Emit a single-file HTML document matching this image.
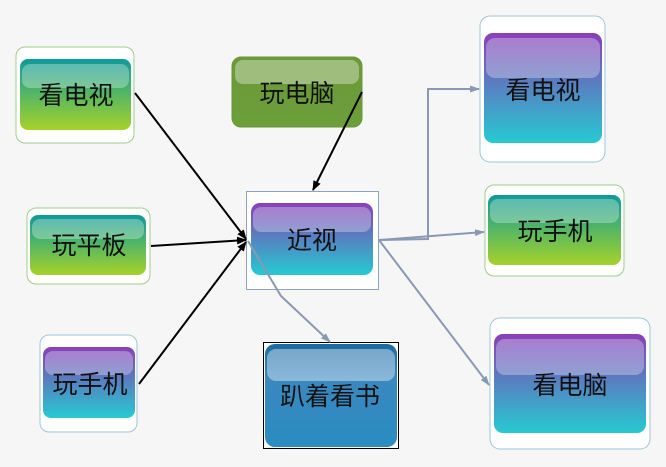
<!DOCTYPE html>
<html><head><meta charset="utf-8"><style>
html,body{margin:0;padding:0;background:#f6f6f6;}
svg{display:block}
text{font-family:"Liberation Sans","Noto Sans CJK SC",sans-serif;font-size:25px;fill:#111;text-anchor:middle;dominant-baseline:central}
</style></head><body>
<svg width="666" height="467" viewBox="0 0 666 467" xmlns="http://www.w3.org/2000/svg">
<defs>
<linearGradient id="gr" x1="0" y1="0" x2="0" y2="1">
<stop offset="0" stop-color="#0e9a98"/><stop offset="0.45" stop-color="#4fb468"/><stop offset="1" stop-color="#a6d22a"/></linearGradient>
<linearGradient id="pu" x1="0" y1="0" x2="0" y2="1">
<stop offset="0" stop-color="#8a3fb8"/><stop offset="0.45" stop-color="#5a7dc0"/><stop offset="1" stop-color="#26cad2"/></linearGradient>
<linearGradient id="ol" x1="0" y1="0" x2="0" y2="1">
<stop offset="0" stop-color="#6c9a3a"/><stop offset="1" stop-color="#6c9e3a"/></linearGradient>
<linearGradient id="bl" x1="0" y1="0" x2="0" y2="1">
<stop offset="0" stop-color="#1a6aa0"/><stop offset="0.35" stop-color="#3a88c0"/><stop offset="1" stop-color="#2a8cc0"/></linearGradient>
<marker id="ab" markerWidth="10" markerHeight="10" refX="9" refY="5" orient="auto" markerUnits="userSpaceOnUse"><path d="M0,1 L10,5 L0,9 z" fill="#000"/></marker>
<marker id="ag" markerWidth="10" markerHeight="10" refX="9" refY="5" orient="auto" markerUnits="userSpaceOnUse"><path d="M0,1.5 L10,5 L0,8.5 z" fill="#8a98b4"/></marker>
</defs>

<rect x="16" y="47" width="118" height="96" rx="9" fill="#fff" stroke="#9ccf8a"/>
<rect x="20" y="59" width="111" height="71" rx="8" fill="url(#gr)"/>
<rect x="22" y="64" width="107" height="24" rx="8" fill="#fff" opacity="0.3"/>
<text x="76" y="96">看电视</text>

<rect x="232" y="57" width="130" height="70" rx="9" fill="url(#ol)" stroke="#6a963a"/>
<rect x="235" y="60" width="124" height="24" rx="8" fill="#fff" opacity="0.35"/>
<text x="297" y="94">玩电脑</text>

<rect x="27" y="208" width="123" height="76" rx="9" fill="#fff" stroke="#9ccf8a"/>
<rect x="30" y="215" width="116" height="60" rx="8" fill="url(#gr)"/>
<rect x="32" y="219" width="112" height="20" rx="8" fill="#fff" opacity="0.3"/>
<text x="89" y="246">玩平板</text>

<rect x="246.5" y="191.5" width="132" height="98" fill="#fff" stroke="#8aa6c4"/>
<rect x="251" y="203" width="122" height="72" rx="9" fill="url(#pu)"/>
<rect x="253" y="207" width="118" height="25" rx="8" fill="#fff" opacity="0.3"/>
<text x="312" y="241">近视</text>

<rect x="40" y="335" width="97" height="97" rx="9" fill="#fff" stroke="#9cc6d8"/>
<rect x="43" y="347" width="92" height="71" rx="8" fill="url(#pu)"/>
<rect x="45" y="351" width="88" height="24" rx="8" fill="#fff" opacity="0.3"/>
<text x="90" y="385">玩手机</text>

<rect x="263.5" y="342.5" width="135" height="106" fill="#fff" stroke="#000"/>
<rect x="265" y="344" width="132" height="103" rx="10" fill="url(#bl)"/>
<rect x="267" y="349" width="128" height="32" rx="9" fill="#fff" opacity="0.4"/>
<text x="330" y="397">趴着看书</text>

<rect x="480" y="16" width="125" height="146" rx="10" fill="#fff" stroke="#9cc6d8"/>
<rect x="484" y="33" width="118" height="110" rx="9" fill="url(#pu)"/>
<rect x="486" y="38" width="114" height="40" rx="9" fill="#fff" opacity="0.3"/>
<text x="543" y="91">看电视</text>

<rect x="485" y="185" width="139" height="91" rx="9" fill="#fff" stroke="#9ccf8a"/>
<rect x="488" y="195" width="133" height="70" rx="8" fill="url(#gr)"/>
<rect x="490" y="199" width="129" height="24" rx="8" fill="#fff" opacity="0.3"/>
<text x="555" y="232">玩手机</text>

<rect x="490" y="318" width="160" height="131" rx="10" fill="#fff" stroke="#9cc6d8"/>
<rect x="494" y="334" width="152" height="99" rx="9" fill="url(#pu)"/>
<rect x="496" y="339" width="148" height="36" rx="9" fill="#fff" opacity="0.3"/>
<text x="570" y="386">看电脑</text>

<g stroke="#000" stroke-width="2" fill="none">
<line x1="135" y1="93" x2="246" y2="239" marker-end="url(#ab)"/>
<line x1="151" y1="246" x2="246" y2="240" marker-end="url(#ab)"/>
<line x1="139" y1="384" x2="246" y2="242" marker-end="url(#ab)"/>
<line x1="362" y1="92" x2="313" y2="190" marker-end="url(#ab)"/>
</g>
<g stroke="#8a98b4" stroke-width="2" fill="none">
<polyline points="379,240 428,239 428,89 479,89" marker-end="url(#ag)"/>
<line x1="379" y1="240" x2="484" y2="232" marker-end="url(#ag)"/>
<line x1="379" y1="240" x2="489" y2="385" marker-end="url(#ag)"/>
<polyline points="248,241 281,296 330,342" marker-end="url(#ag)"/>
</g>
</svg>
</body></html>
